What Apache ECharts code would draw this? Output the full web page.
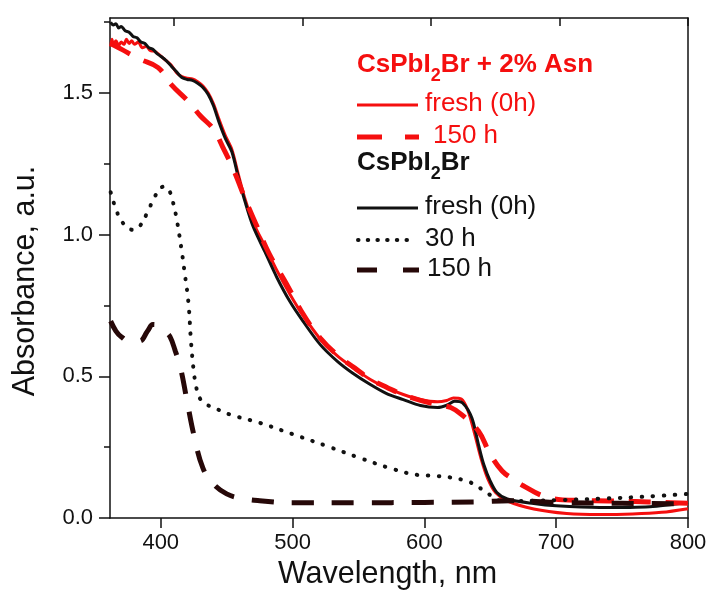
<!DOCTYPE html>
<html><head><meta charset="utf-8">
<script src="https://cdn.jsdelivr.net/npm/echarts@6/dist/echarts.min.js"></script>
<style>html,body{margin:0;padding:0;background:#fff}#c{width:713px;height:596px}</style>
</head><body><div id="c"></div>
<script>
// ---- data (wavelength nm, absorbance a.u.) ----
var asnFreshWl  = [362,363,364,366,368,370,372,374,376,378,380,383,386,389,392,395,399,404,408,412,416,420,424,428,432,436,440,444,449,454,459,464,470,479,488,498,508,521,534,546,559,571,584,597,610,617,622,628,633,638,643,648,654,663,683,708,733,758,780,800];
var asnFreshAbs = [1.665,1.69,1.67,1.685,1.668,1.68,1.672,1.69,1.675,1.685,1.672,1.68,1.66,1.665,1.65,1.648,1.635,1.615,1.598,1.572,1.558,1.552,1.55,1.54,1.525,1.50,1.462,1.41,1.35,1.30,1.21,1.125,1.045,0.96,0.875,0.79,0.715,0.632,0.572,0.53,0.489,0.46,0.436,0.418,0.41,0.415,0.424,0.42,0.38,0.30,0.21,0.14,0.09,0.06,0.032,0.016,0.012,0.014,0.02,0.033];

var asn150Wl  = [362,370,384,398,408,421,430,440,448,455,465,472,482,495,508,521,534,547,559,572,584,597,610,620,628,641,650,659,668,675,690,705,720,740,760,780,800];
var asn150Abs = [1.675,1.655,1.62,1.59,1.53,1.47,1.42,1.372,1.30,1.232,1.115,1.04,0.935,0.83,0.72,0.635,0.575,0.53,0.49,0.46,0.435,0.415,0.40,0.39,0.366,0.307,0.225,0.166,0.135,0.114,0.078,0.064,0.062,0.06,0.058,0.055,0.052];

var refFreshWl  = [362,364,366,368,370,373,376,379,382,385,388,391,394,397,400,404,408,412,416,420,424,428,432,436,440,444,449,454,459,464,470,479,488,498,508,521,534,546,559,571,584,597,610,617,623,629,636,641,645,650,655,663,683,700,733,771,800];
var refFreshAbs = [1.75,1.74,1.745,1.73,1.735,1.72,1.715,1.70,1.695,1.68,1.675,1.66,1.655,1.64,1.63,1.615,1.595,1.575,1.555,1.548,1.545,1.535,1.52,1.495,1.455,1.40,1.34,1.292,1.20,1.116,1.03,0.94,0.85,0.764,0.694,0.612,0.553,0.51,0.471,0.44,0.418,0.397,0.39,0.398,0.412,0.406,0.354,0.26,0.19,0.13,0.09,0.067,0.051,0.043,0.037,0.04,0.055];

var ref30Wl  = [362,366,370,375,379,384,390,395,400,403,406,409,412,416,418,421,423,425,427,430,435,440,452,475,500,526,551,576,595,607,620,632,638,645,652,658,670,683,700,733,770,800];
var ref30Abs = [1.15,1.09,1.05,1.025,1.017,1.03,1.08,1.13,1.165,1.17,1.16,1.12,1.057,0.94,0.87,0.76,0.62,0.52,0.46,0.42,0.40,0.39,0.366,0.336,0.296,0.254,0.212,0.173,0.152,0.149,0.143,0.131,0.118,0.097,0.075,0.061,0.06,0.061,0.063,0.068,0.076,0.085];

var ref150Wl  = [362,366,370,376,384,390,394,398,403,407,411,415,420,425,432,440,450,460,475,500,550,600,640,665,700,750,800];
var ref150Abs = [0.695,0.66,0.64,0.625,0.625,0.66,0.683,0.68,0.66,0.64,0.59,0.53,0.412,0.296,0.176,0.12,0.085,0.07,0.061,0.054,0.054,0.055,0.057,0.061,0.055,0.052,0.05];

var xTicks = [400,500,600,700,800];
var yTicks = [0,0.5,1.0,1.5];
var yMinorTicks = [0.25,0.75,1.25,1.75];

function pairs(xs, ys){ return xs.map(function(x,i){ return [x, ys[i]]; }); }

var RED = '#f50f0f', BLK = '#111111', DARK = '#260808';
var AXC = '#111';
var FONT = 'Liberation Sans, Arial, sans-serif';
var HIDE = 'rgba(0,0,0,0)';

var chart = echarts.init(document.getElementById('c'), null, {renderer:'canvas'});
var option = {
  animation: false,
  backgroundColor: '#fff',
  grid: {left:110, right:25, top:16, bottom:78},
  xAxis: [{
    type:'value', min:361.5, max:800, position:'bottom',
    name:'Wavelength, nm', nameLocation:'middle', nameGap:41,
    nameTextStyle:{fontSize:30.5, color:'#111', fontFamily:FONT, padding:[0,23,0,0]},
    axisLine:{show:true, onZero:false, lineStyle:{color:AXC, width:1.5}},
    axisTick:{show:true, customValues:xTicks, length:10, inside:false, lineStyle:{color:AXC, width:1.5}},
    axisLabel:{show:true, customValues:xTicks, margin:14, fontSize:22, color:'#111', fontFamily:FONT},
    splitLine:{show:false}
  },{
    type:'value', min:350, max:800, position:'top',
    axisLine:{show:true, onZero:false, lineStyle:{color:AXC, width:1.5}},
    axisTick:{show:true, customValues:xTicks, length:8, inside:true, lineStyle:{color:AXC, width:1.5}},
    axisLabel:{show:true, customValues:xTicks, color:HIDE, fontSize:10}, splitLine:{show:false}
  }],
  yAxis: [{
    type:'value', min:0, max:1.765, position:'left',
    name:'Absorbance, a.u.', nameLocation:'middle', nameGap:69,
    nameTextStyle:{fontSize:30.5, color:'#111', fontFamily:FONT, padding:[0,26,0,0]},
    axisLine:{show:true, onZero:false, lineStyle:{color:AXC, width:1.5}},
    axisTick:{show:true, customValues:yTicks, length:11, lineStyle:{color:AXC, width:1.5}},
    axisLabel:{show:true, customValues:yTicks, margin:17, fontSize:22, color:'#111', fontFamily:FONT,
      formatter:function(v){return v.toFixed(1);}},
    splitLine:{show:false}
  },{
    type:'value', min:0, max:1.765, position:'left',
    axisLine:{show:false, onZero:false},
    axisTick:{show:true, customValues:yMinorTicks, length:6, lineStyle:{color:AXC, width:1.5}},
    axisLabel:{show:true, customValues:yMinorTicks, color:HIDE, fontSize:10}, splitLine:{show:false}
  },{
    type:'value', min:0, max:1.765, position:'right',
    axisLine:{show:true, onZero:false, lineStyle:{color:AXC, width:1.5}},
    axisTick:{show:false}, axisLabel:{show:false}, splitLine:{show:false}
  }],
  series: [
    {name:'Asn fresh', type:'line', data:pairs(asnFreshWl, asnFreshAbs), showSymbol:false, smooth:0.3,
     lineStyle:{color:RED, width:3}, z:2},
    {name:'fresh', type:'line', data:pairs(refFreshWl, refFreshAbs), showSymbol:false, smooth:0.3,
     lineStyle:{color:BLK, width:3}, z:3},
    {name:'Asn 150h', type:'line', data:pairs(asn150Wl, asn150Abs), showSymbol:false, smooth:0.4,
     lineStyle:{color:RED, width:5, type:[22,15]}, z:4},
    {name:'30h', type:'line', data:pairs(ref30Wl, ref30Abs), showSymbol:false, smooth:0.4,
     lineStyle:{color:BLK, width:4, type:[0.5,10.5], cap:'round'}, z:5},
    {name:'150h', type:'line', data:pairs(ref150Wl, ref150Abs), showSymbol:false, smooth:0.4,
     lineStyle:{color:DARK, width:5, type:[22,18]}, z:6}
  ],
  graphic: [
    {type:'text', left:357, top:52, style:{
      text:'{a|CsPbI}{s|2}{a|Br + 2% Asn}',
      rich:{a:{fontSize:26, fontWeight:'bold', fill:RED, fontFamily:FONT, lineHeight:28, verticalAlign:'top'},
            s:{fontSize:18, fontWeight:'bold', fill:RED, fontFamily:FONT, lineHeight:18, verticalAlign:'top', padding:[15,0,0,0]}}}},
    {type:'line', shape:{x1:357,y1:105,x2:418,y2:105}, style:{stroke:RED, lineWidth:3}},
    {type:'text', left:425, top:91, style:{text:'fresh (0h)', fontSize:26, fill:RED, fontFamily:FONT}},
    {type:'line', shape:{x1:357,y1:137,x2:419,y2:137}, style:{stroke:RED, lineWidth:5, lineDash:[25,23]}},
    {type:'text', left:433, top:123, style:{text:'150 h', fontSize:26, fill:RED, fontFamily:FONT}},
    {type:'text', left:357, top:150, style:{
      text:'{a|CsPbI}{s|2}{a|Br}',
      rich:{a:{fontSize:26, fontWeight:'bold', fill:BLK, fontFamily:FONT, lineHeight:28, verticalAlign:'top'},
            s:{fontSize:18, fontWeight:'bold', fill:BLK, fontFamily:FONT, lineHeight:18, verticalAlign:'top', padding:[15,0,0,0]}}}},
    {type:'line', shape:{x1:357,y1:208,x2:418,y2:208}, style:{stroke:BLK, lineWidth:3}},
    {type:'text', left:425, top:194, style:{text:'fresh (0h)', fontSize:26, fill:BLK, fontFamily:FONT}},
    {type:'line', shape:{x1:358,y1:240,x2:416,y2:240}, style:{stroke:BLK, lineWidth:4, lineDash:[0.5,9.2], lineCap:'round'}},
    {type:'text', left:425, top:226, style:{text:'30 h', fontSize:26, fill:BLK, fontFamily:FONT}},
    {type:'line', shape:{x1:357,y1:270,x2:419,y2:270}, style:{stroke:DARK, lineWidth:5, lineDash:[20,26]}},
    {type:'text', left:427, top:256, style:{text:'150 h', fontSize:26, fill:BLK, fontFamily:FONT}}
  ]
};
chart.setOption(option);
</script></body></html>
